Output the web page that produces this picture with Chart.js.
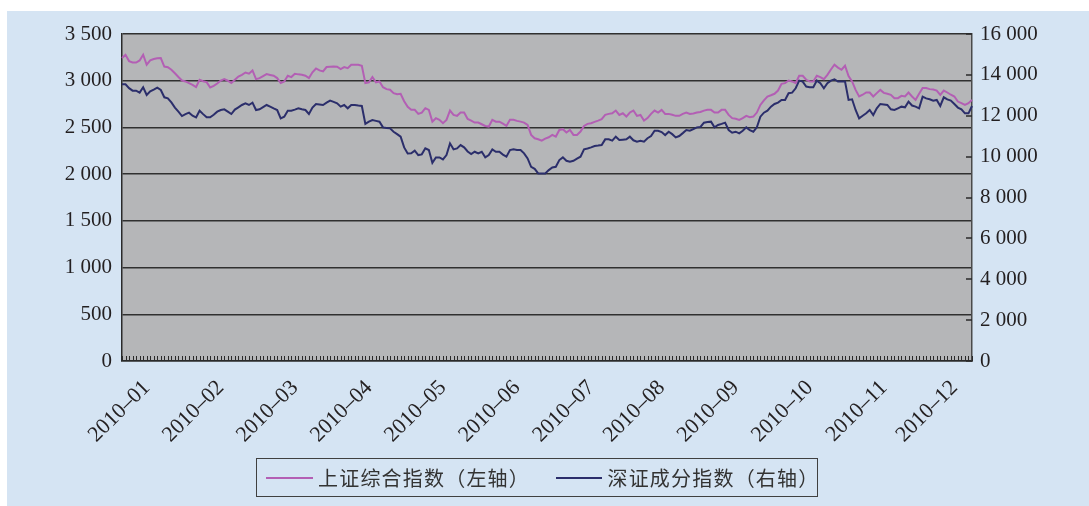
<!DOCTYPE html>
<html>
<head>
<meta charset="utf-8">
<script src="https://cdn.jsdelivr.net/npm/chart.js@4.4.1/dist/chart.umd.min.js"></script>
<style>
  html, body { margin:0; padding:0; background:#ffffff; width:1089px; height:506px; overflow:hidden; }
  #panel { position:absolute; left:7px; top:11px; width:1082px; height:495px; background:#d5e4f3; }
  #c { position:absolute; left:0; top:0; }
  #legend { position:absolute; left:256px; top:458px; width:560px; height:37px; border:1.5px solid #404040;
            font-family:"Noto Sans CJK SC", sans-serif; font-size:20px; color:#333; letter-spacing:1.2px; }
  .item { position:absolute; top:0; height:37px; display:flex; align-items:center; }
  .swatch { width:47px; height:2px; margin-right:5px; }
</style>
</head>
<body>
<div id="panel"><canvas id="c" width="1082" height="495"></canvas></div>
<div id="legend">
  <div class="item" style="left:9px"><div class="swatch" style="background:#b35fb4"></div><span>上证综合指数（左轴）</span></div>
  <div class="item" style="left:299px"><div class="swatch" style="background:#2b2e6b"></div><span>深证成分指数（右轴）</span></div>
</div>
<script>
// Series names
const seriesNames = ['上证综合指数（左轴）', '深证成分指数（右轴）'];
// X tick labels and the category index each one sits at
const tickLabels = ['2010\u201301','2010\u201302','2010\u201303','2010\u201304','2010\u201305','2010\u201306',
                    '2010\u201307','2010\u201308','2010\u201309','2010\u201310','2010\u201311','2010\u201312'];
const tickIndex = [7, 28, 49, 70, 91, 112, 133, 153, 174, 195, 216, 236];
// Left axis ticks / right axis ticks
const leftTicks = [0, 500, 1000, 1500, 2000, 2500, 3000, 3500];
const rightTicks = [0, 2000, 4000, 6000, 8000, 10000, 12000, 14000, 16000];

// 上证综合指数 daily close (2010 trading days)
const shComposite = [
3243,3278,3210,3195,3195,3217,3278,3171,3217,3232,3240,3243,3152,3145,3117,3080,3040,3002,2992,2975,
2955,2931,3010,2995,2985,2928,2945,2970,3002,3017,3000,2975,3010,3045,3063,3088,3075,3110,3017,3028,
3050,3071,3062,3053,3028,2975,2992,3053,3039,3075,3068,3063,3053,3028,3090,3131,3110,3099,3146,3150,
3152,3150,3125,3146,3135,3171,3171,3170,3160,2974,2982,3039,2982,2992,2930,2910,2903,2867,2855,2860,
2780,2720,2688,2688,2645,2659,2706,2688,2562,2599,2581,2545,2581,2681,2634,2624,2659,2659,2590,2573,
2552,2552,2534,2516,2509,2581,2562,2562,2540,2516,2581,2581,2570,2562,2552,2527,2420,2384,2373,2359,
2380,2395,2420,2402,2473,2481,2445,2473,2420,2420,2456,2516,2538,2545,2560,2573,2588,2634,2645,2652,
2681,2634,2652,2616,2660,2681,2624,2634,2573,2600,2645,2681,2659,2688,2645,2645,2635,2624,2624,2645,
2659,2645,2650,2659,2665,2680,2688,2688,2659,2659,2688,2688,2634,2599,2592,2581,2599,2624,2609,2616,
2659,2741,2790,2831,2845,2860,2895,2967,2974,3002,2992,2974,3053,3053,3010,2992,2992,3053,3039,3017,
3063,3120,3171,3140,3117,3160,3050,2992,2902,2831,2850,2874,2874,2831,2867,2902,2870,2860,2849,2813,
2813,2838,2831,2874,2831,2795,2860,2921,2921,2910,2905,2895,2849,2895,2874,2850,2831,2777,2760,2741,
2759,2795
];
// 深证成分指数 daily close (2010 trading days)
const szComponent = [
13541,13541,13350,13229,13229,13131,13394,13017,13196,13280,13377,13262,12903,12853,12650,12400,12199,11987,12080,12150,
12000,11922,12248,12080,11922,11922,12050,12199,12280,12314,12200,12085,12300,12413,12527,12609,12527,12641,12281,12314,
12420,12527,12445,12360,12281,11873,11955,12248,12248,12300,12363,12314,12281,12085,12400,12576,12550,12527,12641,12739,
12680,12609,12445,12527,12363,12527,12527,12500,12478,11600,11710,11791,11750,11710,11432,11400,11383,11219,11100,10974,
10450,10157,10159,10290,10076,10110,10404,10322,9698,9963,9963,9865,10076,10649,10355,10404,10566,10453,10250,10125,
10240,10159,10240,9963,10076,10355,10240,10240,10100,9996,10322,10355,10330,10322,10159,9914,9502,9400,9176,9176,
9176,9340,9470,9502,9831,9963,9798,9749,9798,9900,9996,10355,10400,10453,10518,10540,10566,10845,10845,10780,
10975,10812,10830,10845,10975,10800,10731,10780,10731,10900,11007,11268,11268,11200,11056,11219,11100,10942,11007,11150,
11300,11268,11350,11432,11450,11661,11690,11710,11432,11546,11600,11661,11300,11170,11219,11137,11268,11432,11300,11219,
11432,11955,12150,12249,12445,12576,12641,12773,12773,13100,13131,13344,13719,13670,13426,13394,13394,13719,13590,13344,
13590,13719,13785,13670,13670,13670,12773,12806,12282,11873,12000,12118,12282,12036,12363,12576,12550,12527,12314,12282,
12363,12445,12413,12690,12500,12445,12363,12936,12850,12806,12739,12773,12478,12904,12800,12739,12576,12400,12314,12118,
12118,12478
];

const categories = shComposite.map((_, i) => i);
const labelFor = {};
tickIndex.forEach((idx, k) => { labelFor[idx] = tickLabels[k]; });
const fmt = v => String(v).replace(/\B(?=(\d{3})+(?!\d))/g, ' ');

const numFont = { family: '"Liberation Serif", "Times New Roman", serif', size: 21 };
const xFont = { family: '"Liberation Serif", "Times New Roman", serif', size: 22 };

const plotBg = {
  id: 'plotBg',
  beforeDraw(chart) {
    const a = chart.chartArea, ctx = chart.ctx;
    ctx.save(); ctx.fillStyle = '#b5b6b8';
    ctx.fillRect(a.left, a.top, a.right - a.left, a.bottom - a.top);
    ctx.restore();
  }
};
const innerTicks = {
  id: 'innerTicks',
  afterDraw(chart) {
    const a = chart.chartArea, ctx = chart.ctx, xs = chart.scales.x, yr = chart.scales.y1;
    ctx.save(); ctx.strokeStyle = '#2a2a2a'; ctx.lineWidth = 1;
    ctx.beginPath();
    for (let i = 0; i < categories.length; i++) {
      const px = Math.round(xs.getPixelForValue(i)) + 0.5;
      ctx.moveTo(px, a.bottom); ctx.lineTo(px, a.bottom - 5);
    }
    ctx.stroke();
    ctx.lineWidth = 1.5; ctx.beginPath();
    yr.ticks.forEach(t => {
      const py = Math.round(yr.getPixelForValue(t.value));
      ctx.moveTo(a.right - 6, py); ctx.lineTo(a.right, py);
    });
    ctx.stroke();
    ctx.restore();
  }
};

new Chart(document.getElementById('c'), {
  type: 'line',
  data: {
    labels: categories,
    datasets: [
      { label: seriesNames[0], data: shComposite, yAxisID: 'y', borderColor: '#b35fb4', borderWidth: 2, pointRadius: 0, tension: 0 },
      { label: seriesNames[1], data: szComponent, yAxisID: 'y1', borderColor: '#2b2e6b', borderWidth: 2, pointRadius: 0, tension: 0 }
    ]
  },
  options: {
    responsive: false, animation: false,
    layout: { padding: { top: 23, left: 0, right: 0, bottom: 0 } },
    plugins: { legend: { display: false }, tooltip: { enabled: false } },
    scales: {
      x: {
        type: 'category', offset: false,
        grid: { display: false, drawTicks: false },
        border: { display: true, color: '#2a2a2a', width: 1.5 },
        ticks: {
          autoSkip: false, minRotation: 45, maxRotation: 45, padding: 14,
          color: '#231f20', font: xFont,
          callback: (v, i) => labelFor[i] || ''
        },
        afterFit: s => { s.height = 145; }
      },
      y: {
        position: 'left', min: 0, max: 3500,
        afterBuildTicks: s => { s.ticks = leftTicks.map(v => ({ value: v })); },
        grid: { color: '#303030', lineWidth: 1.5, drawTicks: false },
        border: { display: true, color: '#2a2a2a', width: 1.5 },
        ticks: { color: '#231f20', font: numFont, padding: 10, callback: v => fmt(v) },
        afterFit: s => { s.width = 115; }
      },
      y1: {
        position: 'right', min: 0, max: 16000,
        afterBuildTicks: s => { s.ticks = rightTicks.map(v => ({ value: v })); },
        grid: { drawOnChartArea: false, drawTicks: false },
        border: { display: true, color: '#4a4a4a', width: 1.5 },
        ticks: { color: '#231f20', font: numFont, padding: 8, callback: v => fmt(v) },
        afterFit: s => { s.width = 117; }
      }
    }
  },
  plugins: [plotBg, innerTicks]
});
</script>
</body>
</html>
